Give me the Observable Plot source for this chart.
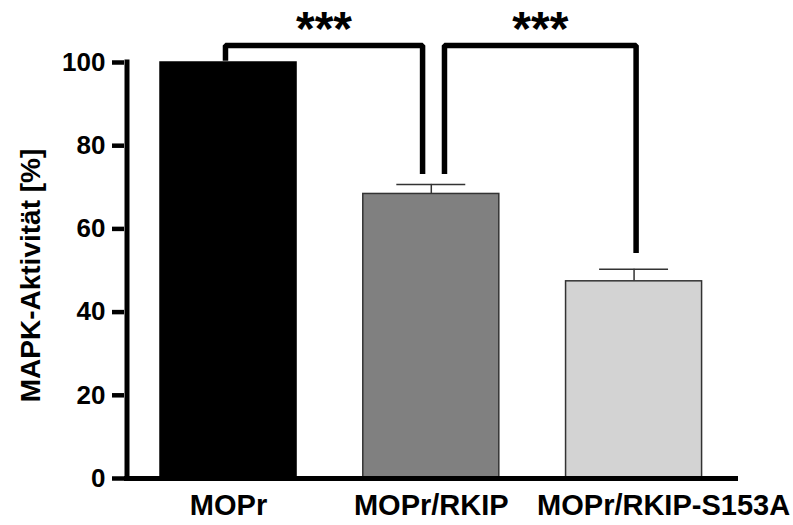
<!DOCTYPE html>
<html>
<head>
<meta charset="utf-8">
<script src="https://cdn.jsdelivr.net/npm/d3@7"></script>
<script src="https://cdn.jsdelivr.net/npm/@observablehq/plot@0.6"></script>
<style>
  html, body { margin: 0; padding: 0; background: #fff; }
  #chart svg { display: block; overflow: visible; }
</style>
</head>
<body>
<div id="chart"></div>
<script>
// ---- data ----
const categories = ["MOPr", "MOPr/RKIP", "MOPr/RKIP-S153A"];
const means = [100, 68.4, 47.4];
const sems = [0, 2.3, 2.9];
const fills = ["#000000", "#808080", "#d3d3d3"];
const yTicks = [0, 20, 40, 60, 80, 100];
const yTitle = "MAPK-Aktivität [%]";
// significance brackets: [from category index, to category index]
const bracketPairs = [[0, 1], [1, 2]];
const bracketTop = 104.1;
const bracketLegEnds = [[100.4, 73.2], [73.2, 54.2]];
const sigLabels = ["***", "***"];

// ---- derived tables ----
const bars = categories.map((c, i) => ({cat: c, i, mean: means[i], sem: sems[i], fill: fills[i]}));
const errs = bars.filter(d => d.sem > 0);

const xmin = -0.513, xmax = 2.515;
const halfBar = 0.3354, halfCap = 0.17;
// small horizontal nudges of bracket legs relative to bar centers
const legNudge = [[-0.015, -0.043], [0.065, 0.01]];

const bracketLines = bracketPairs.map(([a, b], k) => {
  const xa = a + legNudge[k][0], xb = b + legNudge[k][1];
  return [
    {x: xa, y: bracketLegEnds[k][0]},
    {x: xa, y: bracketTop},
    {x: xb, y: bracketTop},
    {x: xb, y: bracketLegEnds[k][1]}
  ];
});
const sigText = bracketPairs.map(([a, b], k) => ({
  x: ((a + legNudge[k][0]) + (b + legNudge[k][1])) / 2,
  y: bracketTop,
  label: sigLabels[k]
}));

const font = "'Liberation Sans', Arial, Helvetica, sans-serif";

const marks = [
  // bars
  Plot.rectY(bars, {
    x1: d => d.i - halfBar, x2: d => d.i + halfBar,
    y1: 0, y2: "mean",
    fill: d => d.fill,
    stroke: d => d.i === 0 ? "#000" : "#333",
    strokeWidth: 1.5
  }),
  // error bars
  Plot.ruleX(errs, {x: "i", y1: "mean", y2: d => d.mean + d.sem, stroke: "#333", strokeWidth: 1.5}),
  Plot.ruleY(errs, {y: d => d.mean + d.sem, x1: d => d.i - halfCap, x2: d => d.i + halfCap, stroke: "#333", strokeWidth: 1.5}),
  // axes lines
  Plot.ruleY([0], {x1: xmin, x2: xmax, stroke: "#000", strokeWidth: 5}),
  Plot.ruleX([xmin], {y1: 0, y2: 100, dx: 2.5, stroke: "#000", strokeWidth: 5, strokeLinecap: "square"}),
  Plot.axisY({
    ticks: yTicks, tickSize: 12, tickPadding: 7, strokeWidth: 4.5,
    fontSize: 26, fontWeight: "bold", fill: "#000",
    fontFamily: font,
    label: null, tickFormat: d => String(d)
  }),
  // y title
  Plot.text([yTitle], {
    frameAnchor: "left", textAnchor: "middle", lineAnchor: "middle",
    rotate: -90, dx: -93, dy: 5,
    fontSize: 28, fontWeight: "bold", fill: "#000", fontFamily: font, text: d => d
  }),
  // category labels
  Plot.text(bars.slice(0, 2), {
    x: "i", y: 0, text: "cat", dy: 27.5, lineAnchor: "middle",
    fontSize: 29, fontWeight: "bold", fill: "#000", fontFamily: font
  }),
  Plot.text(bars.slice(2), {
    x: "i", y: 0, text: "cat", dy: 27.5, dx: 29.5, lineAnchor: "middle",
    fontSize: 29, fontWeight: "bold", fill: "#000", fontFamily: font
  }),
  // brackets
  ...bracketLines.map(pts => Plot.line(pts, {
    x: "x", y: "y", stroke: "#000", strokeWidth: 5.5,
    strokeLinejoin: "miter", strokeLinecap: "butt"
  })),
  Plot.text(sigText, {
    x: "x", y: "y", text: "label", lineAnchor: "bottom", dy: 0,
    fontSize: 48, fontWeight: "bold", fill: "#000", fontFamily: font
  })
];

const chart = Plot.plot({
  width: 793,
  height: 525,
  marginLeft: 124,
  marginRight: 55,
  marginTop: 62,
  marginBottom: 47,
  style: {background: "#fff", overflow: "visible"},
  x: {domain: [xmin, xmax], axis: null},
  y: {domain: [0, 100], axis: null},
  marks
});
document.getElementById("chart").appendChild(chart);
</script>
</body>
</html>
